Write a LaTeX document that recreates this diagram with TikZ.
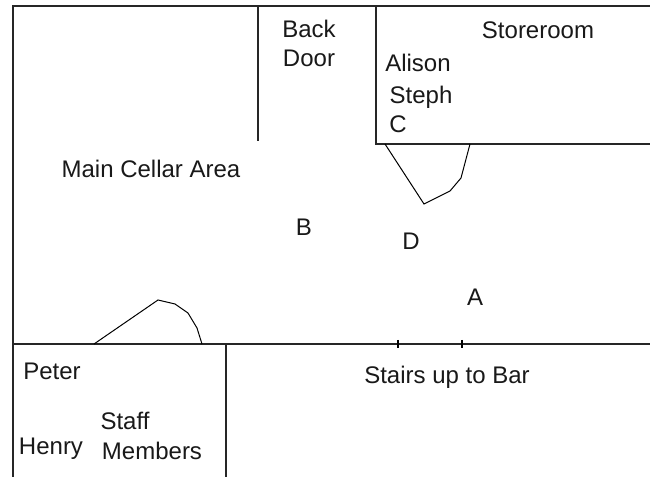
\documentclass[tikz,border=0pt]{standalone}
\usepackage{fontspec}
\setmainfont{Liberation Sans}
\tikzset{wall/.style={draw=black!85,line width=1.1pt},door/.style={draw=black,line width=0.75pt},tick/.style={draw=black,line width=1pt},lbl/.style={font=\fontsize{18}{20}\selectfont,inner sep=0pt,text=black!90,anchor=base}}
\begin{document}
\begin{tikzpicture}[x=0.75pt,y=-0.75pt]
\useasboundingbox[fill=white] (0,0) rectangle (650,477);
\coordinate (tl) at (13,6);
\coordinate (bl) at (13,477);
\coordinate (tr) at (650,6);
\coordinate (sr) at (650,144);
\coordinate (ml) at (13,344);
\coordinate (mr) at (650,344);
\draw[wall] (bl) -- (tl) -- (tr);
\draw[wall] (258,6) -- (258,141);
\draw[wall] (376,6) -- (376,144) -- (sr);
\draw[wall] (ml) -- (mr);
\draw[wall] (226,344) -- (226,477);
\draw[tick] (398,340) -- (398,348);
\draw[tick] (462,340) -- (462,348);
\draw[door] (385,144) -- (424,204) -- (450,191) -- (461,178) -- (470,144);
\draw[door] (94,344) -- (158,300) -- (175,304) -- (188,313) -- (197,328) -- (202,344);
\node[lbl] (n1) at (309,38) {Back};
\node[lbl] (n2) at (309,67) {Door};
\node[lbl] (n3) at (538,39) {Storeroom};
\node[lbl] (n4) at (418,72) {Alison};
\node[lbl] (n5) at (421,104) {Steph};
\node[lbl] (n6) at (398,133) {C};
\node[lbl] (n7) at (151,178) {Main Cellar Area};
\node[lbl] (n8) at (304,236) {B};
\node[lbl] (n9) at (411,250) {D};
\node[lbl] (n10) at (475,306) {A};
\node[lbl] (n11) at (447,383) {Stairs up to Bar};
\node[lbl] (n12) at (52,379) {Peter};
\node[lbl] (n13) at (51,455) {Henry};
\node[lbl] (n14) at (125,429) {Staff};
\node[lbl] (n15) at (152,459) {Members};
\end{tikzpicture}
\end{document}
